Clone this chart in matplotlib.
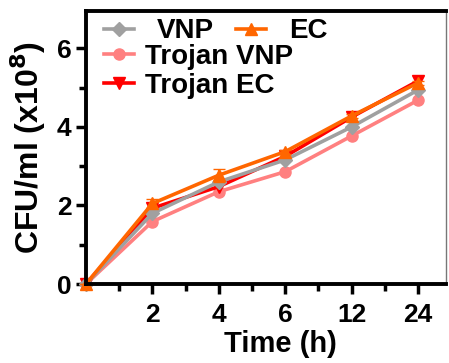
import numpy as np
import matplotlib.pyplot as plt
from matplotlib.ticker import FixedLocator

plt.rcParams['font.family'] = ['Liberation Sans', 'DejaVu Sans']
plt.rcParams['font.weight'] = 'bold'

# data
times = ['0', '2', '4', '6', '12', '24']
vnp = [0, 1.80, 2.60, 3.16, 4.00, 4.94]
ec = [0, 2.05, 2.77, 3.37, 4.28, 5.12]
trojan_vnp = [0, 1.59, 2.35, 2.86, 3.77, 4.68]
trojan_ec = [0, 1.93, 2.48, 3.25, 4.25, 5.17]
ec_err = [0, 0.12, 0.17, 0.05, 0.05, 0.05]

x = np.arange(len(times))

fig = plt.figure(figsize=(4.49, 3.63), dpi=100)
ax = fig.add_axes([0.1915, 0.2176, 0.8018, 0.7521])

lw = 2.6
l3, = ax.plot(x, trojan_vnp, color='#ff8080', marker='o', ms=8, lw=lw, clip_on=False, label='Trojan VNP')
l4, = ax.plot(x, trojan_ec, color='#ff0000', marker='v', ms=9, lw=lw, clip_on=False, label='Trojan EC')
l1, = ax.plot(x, vnp, color='#a0a0a0', marker='D', ms=7, lw=lw, clip_on=False, label='VNP')
eb = ax.errorbar(x, ec, yerr=ec_err, color='#ff6600', marker='^', ms=9, lw=lw,
                 capsize=4, elinewidth=1.5, clip_on=False, label='EC')
l2 = eb[0]

ax.set_xlim(0, 5.42)
ax.set_ylim(0, 6.95)
ax.xaxis.set_major_locator(FixedLocator(x[1:]))
ax.set_xticklabels(times[1:])
ax.xaxis.set_minor_locator(FixedLocator(np.arange(0.5, 5.5, 1.0)))
ax.set_yticks([0, 2, 4, 6])
ax.yaxis.set_minor_locator(FixedLocator([1, 3, 5]))

ax.tick_params(which='major', length=7, width=2.5, labelsize=19)
ax.tick_params(axis='x', which='major', pad=7)
ax.tick_params(which='minor', length=5, width=2.5)
for s in ['left', 'bottom', 'top']:
    ax.spines[s].set_linewidth(2.8)
ax.spines['right'].set_linewidth(1)
ax.spines['right'].set_color('#777777')

ax.set_xlabel('Time (h)', fontsize=21, fontweight='bold', labelpad=3)
ax.xaxis.set_label_coords(0.54, -0.17)
ax.set_ylabel('CFU/ml (x10$^\\mathbf{8}$)', fontsize=23, fontweight='bold', labelpad=6)

leg1 = ax.legend([l1, l2], ['VNP', 'EC'], ncol=2, loc='upper left', bbox_to_anchor=(-0.02, 1.065),
                 frameon=False, handlelength=1.1, handletextpad=0.8,
                 columnspacing=0.8, prop={'weight': 'bold', 'size': 20})
ax.add_artist(leg1)
ax.legend([l3, l4], ['Trojan VNP', 'Trojan EC'], loc='upper left', bbox_to_anchor=(-0.02, 0.97),
          frameon=False, handlelength=1.1, handletextpad=0.4, labelspacing=0.1,
          prop={'weight': 'bold', 'size': 20})

fig.savefig('out.png', dpi=100)
